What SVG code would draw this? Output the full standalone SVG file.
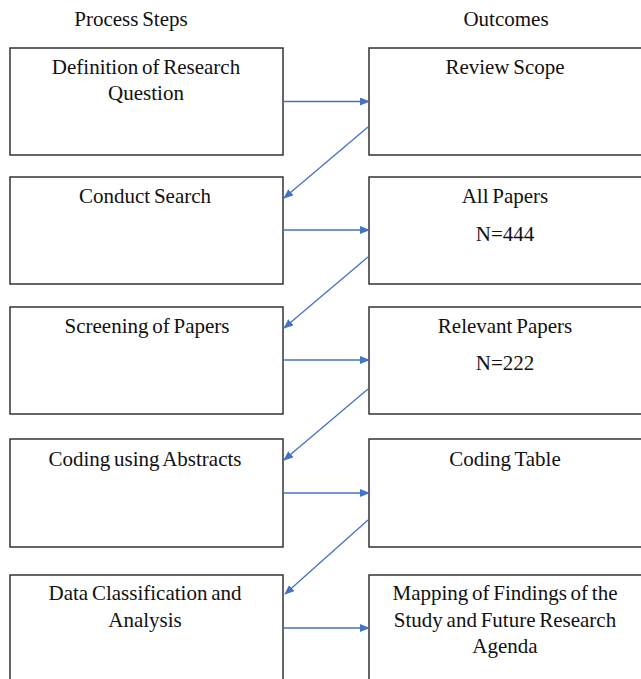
<svg xmlns="http://www.w3.org/2000/svg" width="641" height="679" viewBox="0 0 641 679">
<defs>
<marker id="ah" markerWidth="10" markerHeight="8" refX="9" refY="4" orient="auto" markerUnits="userSpaceOnUse">
<path d="M0,0 L10,4 L0,8 Z" fill="#4472C4"/>
</marker>
<style>
.box{fill:#fff;stroke:#333;stroke-width:1.5}
.t{font-family:"Liberation Serif","Times New Roman",serif;font-size:21px;word-spacing:-1.5px;fill:#111;text-anchor:middle}
.c{stroke:#4472C4;stroke-width:1.3;fill:none;marker-end:url(#ah)}
</style>
</defs>
<rect width="641" height="679" fill="#fff"/>
<text class="t" x="131" y="26">Process Steps</text>
<text class="t" x="506" y="26">Outcomes</text>

<g id="n1"><rect class="box" x="10" y="48" width="273" height="107"/><text class="t" x="146" y="74">Definition of Research</text><text class="t" x="146" y="100">Question</text></g>
<g id="o1"><rect class="box" x="369" y="48" width="275" height="107"/><text class="t" x="505" y="74">Review Scope</text></g>

<g id="n2"><rect class="box" x="10" y="177" width="273" height="107"/><text class="t" x="145" y="203">Conduct Search</text></g>
<g id="o2"><rect class="box" x="369" y="177" width="275" height="107"/><text class="t" x="505" y="203">All Papers</text><text class="t" x="505" y="241">N=444</text></g>

<g id="n3"><rect class="box" x="10" y="307" width="273" height="107"/><text class="t" x="147" y="333">Screening of Papers</text></g>
<g id="o3"><rect class="box" x="369" y="307" width="275" height="107"/><text class="t" x="505" y="333">Relevant Papers</text><text class="t" x="505" y="370">N=222</text></g>

<g id="n4"><rect class="box" x="10" y="439" width="273" height="108"/><text class="t" x="145" y="466">Coding using Abstracts</text></g>
<g id="o4"><rect class="box" x="369" y="439" width="275" height="108"/><text class="t" x="505" y="466">Coding Table</text></g>

<g id="n5"><rect class="box" x="10" y="575" width="273" height="110"/><text class="t" x="145" y="600">Data Classification and</text><text class="t" x="145" y="627">Analysis</text></g>
<g id="o5"><rect class="box" x="369" y="575" width="275" height="110"/><text class="t" x="505" y="600">Mapping of Findings of the</text><text class="t" x="505" y="627">Study and Future Research</text><text class="t" x="505" y="653">Agenda</text></g>

<g id="connectors">
<line class="c" x1="283" y1="101.5" x2="369" y2="101.5"/>
<line class="c" x1="368" y1="127" x2="284" y2="198"/>
<line class="c" x1="283" y1="230" x2="369" y2="230"/>
<line class="c" x1="368" y1="257" x2="284" y2="328"/>
<line class="c" x1="283" y1="360" x2="369" y2="360"/>
<line class="c" x1="368" y1="389" x2="284" y2="460"/>
<line class="c" x1="283" y1="493" x2="369" y2="493"/>
<line class="c" x1="368" y1="520" x2="285" y2="594"/>
<line class="c" x1="283" y1="628" x2="369" y2="628"/>
</g>
</svg>
